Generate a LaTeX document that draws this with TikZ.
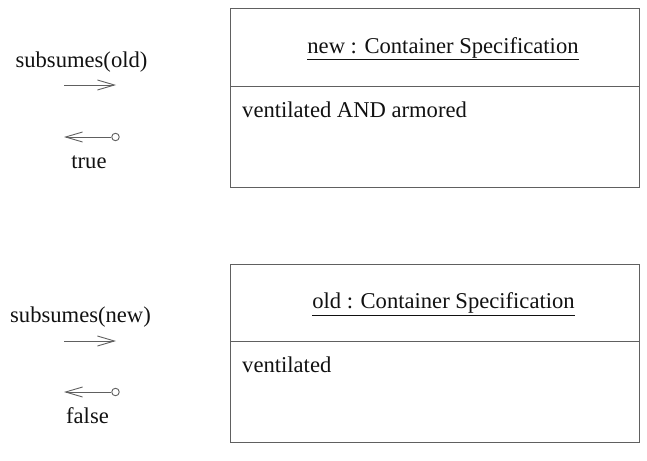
\documentclass[tikz,border=0pt]{standalone}
\usepackage{fontspec}
\setmainfont{Liberation Serif}
\usetikzlibrary{arrows.meta}
\definecolor{linegray}{HTML}{606060}
\definecolor{textgray}{HTML}{111111}
\tikzset{
  lbl/.style={font=\fontsize{22.6}{27}\selectfont, text=textgray, inner sep=0pt, anchor=base},
  objbox/.style={draw=linegray, line width=1pt},
  msg/.style={draw=linegray, line width=0.9pt, -{Straight Barb[length=17pt,width=10pt,line width=0.9pt]}},
  ret/.style={draw=linegray, line width=0.9pt, {Straight Barb[length=17pt,width=10pt,line width=0.9pt]}-},
  endpt/.style={circle, draw=linegray, line width=0.9pt, minimum size=7.5pt, inner sep=0pt},
}
\begin{document}
\begin{tikzpicture}[x=1pt,y=-1pt]
\useasboundingbox (0,0) rectangle (647,460);

% first object and its message pair
\draw[objbox] (230.5,9) rectangle (639,187.5);
\draw[objbox] (230.5,86) -- (639,86);
\node[lbl] (t1) at (443,53) {\underline{new : Container Specification}};
\node[lbl, anchor=base west] (a1) at (242,117) {ventilated AND armored};

\node[lbl] (m1) at (81.5,67) {subsumes(old)};
\coordinate (m1s) at (64,85);
\coordinate (m1e) at (116,85);
\draw[msg] (m1s) -- (m1e);
\node[endpt] (r1c) at (115.5,137) {};
\coordinate (r1e) at (64,137);
\draw[ret] (r1e) -- (r1c);
\node[lbl] (r1) at (89,168) {true};

% second object and its message pair
\draw[objbox] (230.5,264) rectangle (639,442.5);
\draw[objbox] (230.5,341) -- (639,341);
\node[lbl] (t2) at (443.5,308.5) {\underline{old : Container Specification}};
\node[lbl, anchor=base west] (a2) at (242,372) {ventilated};

\node[lbl] (m2) at (80.5,322) {subsumes(new)};
\coordinate (m2s) at (64,341);
\coordinate (m2e) at (116,341);
\draw[msg] (m2s) -- (m2e);
\node[endpt] (r2c) at (115.5,392) {};
\coordinate (r2e) at (64,392);
\draw[ret] (r2e) -- (r2c);
\node[lbl] (r2) at (87.5,423) {false};
\end{tikzpicture}
\end{document}
